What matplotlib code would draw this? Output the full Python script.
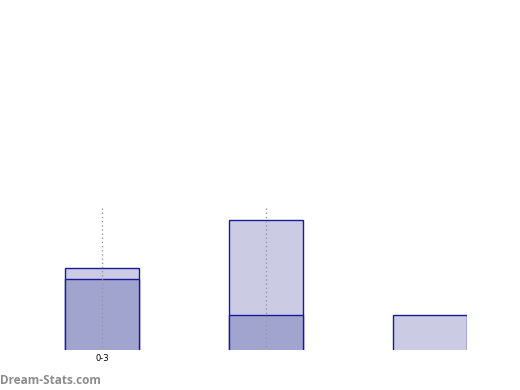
import matplotlib.pyplot as plt

# values (y scale 0..12)
positions = [0, 1, 2]
tick_labels = ["0-3", "", ""]
total_vals = [7, 11, 3]
front_vals = [6, 3, 0]
marker_pos = [0, 1]

fig = plt.figure(figsize=(5.2, 3.9), dpi=100)
ax = fig.add_axes([20 / 520, 40 / 390, 447 / 520, 142 / 390])

ax.bar(positions, total_vals, width=0.453, color="#cbcbe3", edgecolor="#1a1a99", linewidth=1.0, zorder=2)
ax.bar(positions, front_vals, width=0.453, color="#a2a4d0", edgecolor="#1a1a99", linewidth=1.0, zorder=3)
ax.vlines(marker_pos, 0, 12, colors="#999999", linestyles=(0, (1, 2)), linewidth=1.0, zorder=4)

# lower limit a hair above zero so the bar bottoms are clipped like the original
ax.set_xlim(-0.5, 2.224)
ax.set_ylim(0.08, 12)
ax.set_xticks(positions)
ax.set_xticklabels(tick_labels, fontsize=6)
ax.tick_params(axis="x", length=0, pad=3)
ax.set_yticks([])
for s in ax.spines.values():
    s.set_visible(False)

fig.text(0.0, 9 / 390, "Dream-Stats.com", fontsize=8.5, color="#8c8c8c", fontweight="bold",
         family="Open Sans", ha="left", va="center")

fig.savefig("out.png", dpi=100)
